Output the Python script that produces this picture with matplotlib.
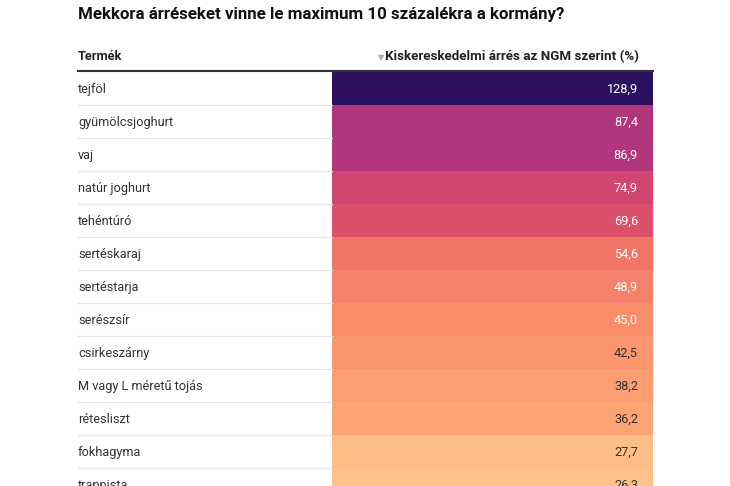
import matplotlib
matplotlib.use("Agg")
import matplotlib.pyplot as plt
from matplotlib.patches import Rectangle

products = ["tejföl", "gyümölcsjoghurt", "vaj", "natúr joghurt", "tehéntúró",
            "sertéskaraj", "sertéstarja", "serészsír", "csirkeszárny",
            "M vagy L méretű tojás", "rétesliszt", "fokhagyma", "trappista"]
values = [128.9, 87.4, 86.9, 74.9, 69.6, 54.6, 48.9, 45.0, 42.5, 38.2, 36.2, 27.7, 26.3]
colors = ["#2d1160", "#b0357b", "#b1367b", "#d1466f", "#dc506b", "#f07567", "#f4826a",
          "#f98d6a", "#fa956d", "#fb9e72", "#fca472", "#febf86", "#fec187"]

plt.rcParams["font.family"] = "Roboto"
fig = plt.figure(figsize=(7.3, 4.86), dpi=100)
ax = fig.add_axes([0, 0, 1, 1])
ax.set_xlim(0, 730)
ax.set_ylim(486, 0)
ax.axis("off")

ax.text(78, 14, "Mekkora árréseket vinne le maximum 10 százalékra a kormány?",
        fontsize=12.2, fontweight="bold", color="#111", va="center")
ax.text(78, 57, "Termék", fontsize=9.2, fontweight="bold", color="#222", va="center")
ax.text(639, 57, "Kiskereskedelmi árrés az NGM szerint (%)", fontsize=9.6,
        fontweight="bold", color="#222", va="center", ha="right")
ax.text(381, 58, "▼", fontsize=6, color="#aaa", va="center", ha="center",
        family="DejaVu Sans")
ax.plot([78, 653], [71.5, 71.5], color="#333", lw=1.5)

row_h = 33
for i, (p, v, c) in enumerate(zip(products, values, colors)):
    top = 72 + row_h * i
    ax.add_patch(Rectangle((332, top), 321, row_h, color=c, lw=0))
    ax.text(78, top + row_h / 2 + 1, p, fontsize=9.2, color="#333", va="center")
    tc = "white" if v >= 45 else "#333"
    ax.text(638, top + row_h / 2 + 1, f"{v:.1f}".replace(".", ","), fontsize=9.2,
            color=tc, va="center", ha="right")
    if i > 0:
        ax.plot([78, 332], [top, top], color="#e6e6e6", lw=0.8)

fig.savefig("out.png", dpi=100)
